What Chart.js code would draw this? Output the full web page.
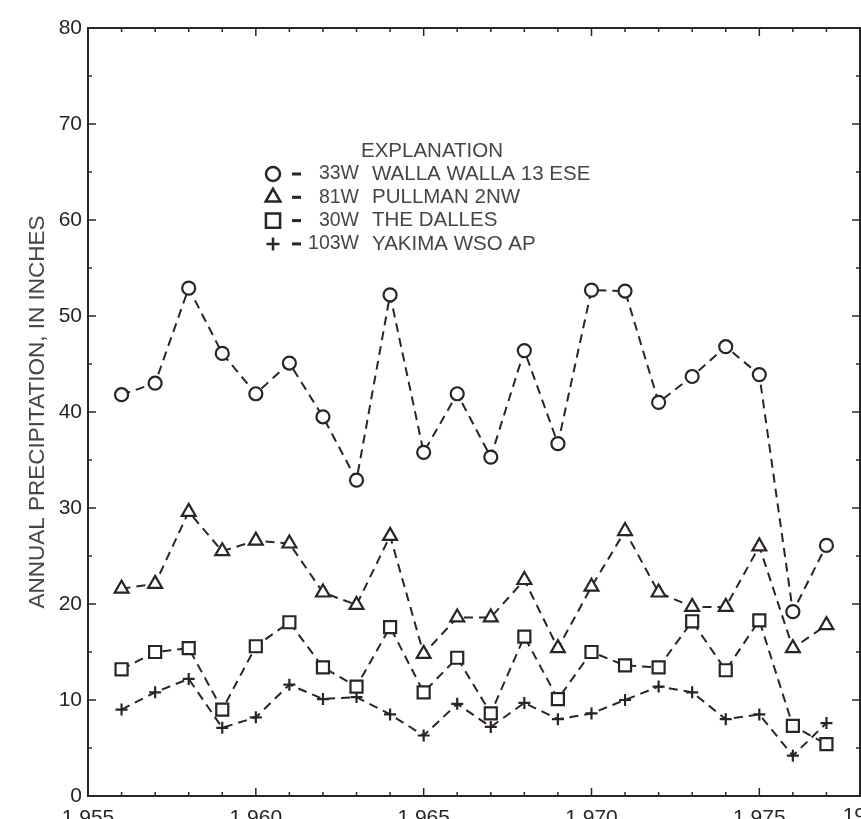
<!DOCTYPE html>
<html>
<head>
<meta charset="utf-8">
<script src="https://cdn.jsdelivr.net/npm/chart.js@4.4.1/dist/chart.umd.min.js"></script>
<style>
 html, body { margin: 0; padding: 0; background: #fff; overflow: hidden; }
 #wrap { width: 861px; height: 840px; }
</style>
</head>
<body>
<div id="wrap"><canvas id="chart" width="861" height="840"></canvas></div>
<script>
const INK = '#2b2424';
const TEXT = '#262626';
const FONT = '"Liberation Sans", Arial, sans-serif';

// data, annual precipitation in inches
const years = [1956, 1957, 1958, 1959, 1960, 1961, 1962, 1963, 1964, 1965, 1966,
 1967, 1968, 1969, 1970, 1971, 1972, 1973, 1974, 1975, 1976, 1977];
const wallaWalla = [41.8, 43.0, 52.9, 46.1, 41.9, 45.1, 39.5, 32.9, 52.2, 35.8, 41.9,
 35.3, 46.4, 36.7, 52.7, 52.6, 41.0, 43.7, 46.8, 43.9, 19.2, 26.1];
const pullman = [21.6, 22.1, 29.6, 25.5, 26.6, 26.3, 21.2, 19.9, 27.1, 14.8, 18.6,
 18.6, 22.5, 15.4, 21.8, 27.6, 21.2, 19.7, 19.7, 26.0, 15.4, 17.8];
const theDalles = [13.2, 15.0, 15.4, 9.0, 15.6, 18.1, 13.4, 11.4, 17.6, 10.8, 14.4,
 8.6, 16.6, 10.1, 15.0, 13.6, 13.4, 18.2, 13.1, 18.3, 7.3, 5.4];
const yakima = [9.0, 10.8, 12.2, 7.1, 8.2, 11.6, 10.1, 10.3, 8.5, 6.3, 9.6,
 7.2, 9.7, 8.0, 8.6, 10.0, 11.4, 10.8, 8.0, 8.5, 4.2, 7.6];

const stationCodes = ['33W', '81W', '30W', '103W'];
const stationNames = ['WALLA WALLA 13 ESE', 'PULLMAN 2NW', 'THE DALLES', 'YAKIMA WSO AP'];
const symbols = ['circle', 'triangle', 'rect', 'cross'];
const symbolRadius = [6.5, 8, 8.5, 6];
const xTicks = [1955, 1960, 1965, 1970, 1975];
const extraXLabel = '1980';

const series = [wallaWalla, pullman, theDalles, yakima];

const datasets = series.map((vals, i) => ({
 label: stationNames[i],
 data: years.map((yr, j) => ({ x: yr, y: vals[j] })),
 borderColor: INK,
 borderWidth: 2,
 borderDash: [9, 6],
 pointStyle: symbols[i],
 pointRadius: symbolRadius[i],
 pointHoverRadius: symbolRadius[i],
 pointBorderWidth: 2.2,
 pointBorderColor: INK,
 pointBackgroundColor: '#fff',
 tension: 0,
 fill: false,
}));

function seg(ctx, x1, y1, x2, y2) {
 ctx.beginPath(); ctx.moveTo(x1, y1); ctx.lineTo(x2, y2); ctx.stroke();
}

// box round the plot with inward ticks on all four sides
const framePlugin = {
 id: 'frame',
 afterDraw(chart) {
 const { ctx, chartArea: a, scales: { x, y } } = chart;
 ctx.save();
 ctx.strokeStyle = INK;
 ctx.lineWidth = 2;
 ctx.strokeRect(a.left, a.top, a.right - a.left, a.bottom - a.top);
 ctx.lineWidth = 1.5;
 for (let yr = x.min; yr <= x.max; yr++) {
 const px = x.getPixelForValue(yr);
 const len = yr % 5 === 0 ? 8 : 4;
 seg(ctx, px, a.top, px, a.top + len);
 seg(ctx, px, a.bottom, px, a.bottom - len);
 }
 for (let v = y.min; v <= y.max; v += 5) {
 const py = y.getPixelForValue(v);
 const len = v % 10 === 0 ? 8 : 4;
 seg(ctx, a.left, py, a.left + len, py);
 seg(ctx, a.right, py, a.right - len, py);
 }
 // the next decade label sits just past the cropped right edge
 ctx.fillStyle = TEXT;
 ctx.font = '21px ' + FONT;
 ctx.textAlign = 'center';
 ctx.textBaseline = 'top';
 ctx.fillText(extraXLabel, a.right + 6, a.bottom + 10);
 ctx.restore();
 }
};

const explanationPlugin = {
 id: 'explanation',
 afterDraw(chart) {
 const ctx = chart.ctx;
 ctx.save();
 ctx.fillStyle = '#4a4545';
 ctx.textBaseline = 'middle';
 ctx.font = '20.5px ' + FONT;
 ctx.textAlign = 'center';
 ctx.fillText('EXPLANATION', 432, 151);
 stationNames.forEach((name, i) => {
 const cy = 174 + i * 23.3;
 ctx.strokeStyle = INK;
 ctx.fillStyle = '#fff';
 ctx.lineWidth = 2.5;
 Chart.helpers.drawPoint(ctx, { pointStyle: symbols[i], radius: [7, 8.5, 10, 6.5][i], rotation: 0, borderWidth: 2.5 }, 273, cy);
 ctx.fillStyle = INK;
 ctx.fillRect(292, cy - 1.5, 9, 3);
 ctx.fillStyle = '#4a4545';
 ctx.font = '19.5px ' + FONT;
 ctx.textAlign = 'right';
 ctx.fillText(stationCodes[i], 359, cy);
 ctx.font = '20.5px ' + FONT;
 ctx.textAlign = 'left';
 ctx.fillText(name, 372, cy);
 });
 ctx.restore();
 }
};

new Chart(document.getElementById('chart'), {
 type: 'line',
 data: { datasets },
 options: {
 responsive: false,
 animation: false,
 layout: { autoPadding: false, padding: { top: 28, left: 0, right: 1, bottom: 0 } },
 plugins: { legend: { display: false }, tooltip: { enabled: false } },
 scales: {
 x: {
 type: 'linear',
 min: 1955,
 max: 1978,
 afterBuildTicks: s => { s.ticks = xTicks.map(v => ({ value: v })); },
 afterFit: s => { s.height = 44; s.paddingLeft = 0; s.paddingRight = 0; },
 grid: { display: false, drawTicks: false },
 border: { display: false },
 ticks: {
 autoSkip: false,
 maxRotation: 0,
 padding: 10,
 color: TEXT,
 font: { family: FONT, size: 21 },
 },
 },
 y: {
 min: 0,
 max: 80,
 afterFit: s => { s.width = 88; s.paddingTop = 0; s.paddingBottom = 0; },
 grid: { display: false, drawTicks: false },
 border: { display: false },
 ticks: {
 stepSize: 10,
 padding: 6,
 color: TEXT,
 font: { family: FONT, size: 21 },
 },
 title: {
 display: true,
 text: 'ANNUAL PRECIPITATION, IN INCHES',
 color: '#4a4545',
 font: { family: FONT, size: 22.5 },
 padding: { top: 24, bottom: 0 },
 },
 },
 },
 },
 plugins: [framePlugin, explanationPlugin],
});
</script>
</body>
</html>
